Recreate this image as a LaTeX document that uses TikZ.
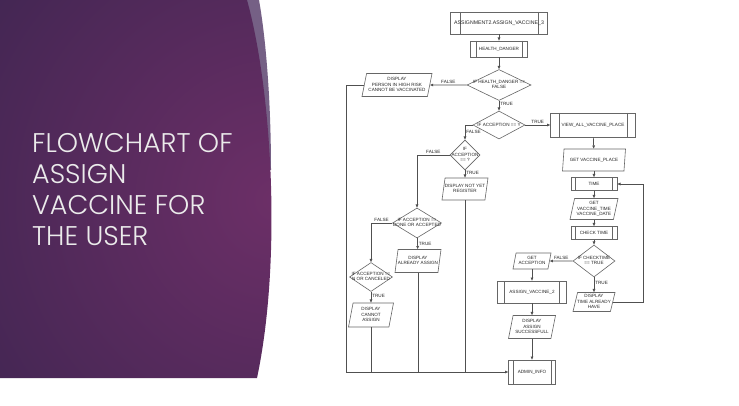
\documentclass[tikz,border=0pt]{standalone}
\usepackage{fontspec}
\usepackage{xcolor}
\usepackage{tikz}
\usetikzlibrary{shapes.geometric,arrows.meta,calc}
\setmainfont{Liberation Sans}
\newfontfamily\titlefont{Poppins Light}
\definecolor{bgL}{HTML}{2A2147}
\definecolor{bgR}{HTML}{6C2F67}
\definecolor{rim}{HTML}{756085}
\definecolor{ln}{HTML}{505050}
\definecolor{bd}{HTML}{666666}
\newcommand{\fc}[1]{\makebox[0pt]{\begin{tabular}{@{}c@{}}#1\end{tabular}}}
\tikzset{
  fcnode/.style={draw=bd, line width=.6pt, inner sep=0pt, text=black!85, font=\fontsize{4.6}{5.7}\selectfont},
  subproc/.style={fcnode, rectangle, path picture={\draw[bd, line width=.6pt]
    ($(path picture bounding box.north west)!.1!(path picture bounding box.north east)$) -- ($(path picture bounding box.south west)!.1!(path picture bounding box.south east)$)
    ($(path picture bounding box.north west)!.9!(path picture bounding box.north east)$) -- ($(path picture bounding box.south west)!.9!(path picture bounding box.south east)$);}},
  io/.style={fcnode, trapezium, trapezium left angle=75, trapezium right angle=105, trapezium stretches body},
  decision/.style={fcnode, diamond, aspect=1},
  flow/.style={draw=ln, line width=.7pt, -{Triangle[length=3.2pt,width=2.6pt]}},
  wire/.style={draw=ln, line width=.7pt},
  lbl/.style={inner sep=1pt, text=black!85, font=\fontsize{4.6}{5}\selectfont},
}

\begin{document}
\begin{tikzpicture}[x=1pt, y=-1pt]%
\useasboundingbox (0,0) rectangle (739,406);%
\fill[white] (0,0) rectangle (739,406);%
% slide panel
\fill[rim] (240,0) -- (259,0) .. controls (267,45) and (271,110) .. (271,170) -- (240,170) -- cycle;%
\begin{scope}%
\clip (0,0) -- (247,0) .. controls (272,90) and (282,260) .. (257,378) -- (0,378) -- cycle;%
\shade[inner color=bgR, outer color=bgL] (275,200) circle (560);%
\end{scope}%
\node[anchor=north west, align=left, inner sep=0pt, text=white!92!black, font=\titlefont\fontsize{27}{31}\selectfont] (title) at (32,133) {FLOWCHART OF\\ASSIGN\\VACCINE FOR\\THE USER};%
% main column
\node[subproc, minimum width=97pt, minimum height=22pt, font=\fontsize{5.2}{6}\selectfont] (top) at (499,23) {\fc{ASSIGNMENT2.ASSIGN\_VACCINE\_3}};%
\node[subproc, minimum width=57pt, minimum height=16pt] (danger) at (499,49) {\fc{HEALTH\_DANGER}};%
\node[decision, minimum width=64pt, minimum height=31pt] (ifdanger) at (499,85) {\fc{IF HEALTH\_DANGER ==\\FALSE}};%
\node[io, minimum width=70pt, minimum height=23pt] (risk) at (397,85) {\fc{DISPLAY\\PERSON IN HIGH RISK\\CANNOT BE VACCINATED}};%
\node[decision, minimum width=52pt, minimum height=28pt] (ifaccept) at (499,125) {\fc{IF ACCEPTION == Y}};%
% right column
\node[subproc, minimum width=85pt, minimum height=24pt] (viewall) at (593,125) {\fc{VIEW\_ALL\_VACCINE\_PLACE}};%
\node[io, minimum width=63pt, minimum height=22pt] (getplace) at (594,160) {\fc{GET VACCINE\_PLACE}};%
\node[subproc, minimum width=46pt, minimum height=13pt] (time) at (594,184) {\fc{TIME}};%
\node[io, minimum width=48pt, minimum height=21pt] (gettime) at (594,209) {\fc{GET\\VACCINE\_TIME\\VACCINE\_DATE}};%
\node[subproc, minimum width=46pt, minimum height=13pt] (checktime) at (594,233) {\fc{CHECK TIME}};%
\node[decision, minimum width=42pt, minimum height=32pt] (ifcheck) at (594,261) {\fc{IF CHECKTIME\\== TRUE}};%
\node[io, minimum width=42pt, minimum height=19pt] (havetime) at (594,302) {\fc{DISPLAY\\TIME ALREADY\\HAVE}};%
\node[io, minimum width=38pt, minimum height=16pt] (getaccept) at (532,261) {\fc{GET\\ACCEPTION}};%
\node[subproc, minimum width=69pt, minimum height=22pt] (assign) at (532,292) {\fc{ASSIGN\_VACCINE\_2}};%
\node[io, minimum width=47pt, minimum height=23pt] (success) at (532,327) {\fc{DISPLAY\\ASSIGN\\SUCCESSFULL}};%
\node[subproc, minimum width=47pt, minimum height=24pt] (admin) at (532,372) {\fc{ADMIN\_INFO}};%
% left branches
\node[decision, minimum width=30pt, minimum height=30pt] (ifquery) at (465,155) {\fc{IF\\ACCEPTION\\== ?}};%
\node[io, minimum width=46pt, minimum height=22pt] (notyet) at (465,189) {\fc{DISPLAY NOT YET\\REGISTER}};%
\node[decision, minimum width=49pt, minimum height=30pt] (ifdone) at (417,223) {\fc{IF ACCEPTION ==\\DONE OR ACCEPTED}};%
\node[io, minimum width=46pt, minimum height=23pt] (already) at (418,261) {\fc{DISPLAY\\ALREADY ASSIGN}};%
\node[decision, minimum width=43pt, minimum height=29pt] (ifcancel) at (371,277) {\fc{IF ACCEPTION ==\\N OR CANCELED}};%
\node[io, minimum width=45pt, minimum height=24pt] (cannot) at (371,315) {\fc{DISPLAY\\CANNOT\\ASSIGN}};%
\coordinate (bl) at (346,372);%
\coordinate (rt) at (643,184);%
% connectors
\draw[flow] (top) -- (danger);%
\draw[flow] (danger) -- (ifdanger);%
\draw[flow] (ifdanger) -- node[lbl, above] {FALSE} (risk);%
\draw[flow] (ifdanger) -- node[lbl, right, pos=.35] {TRUE} (ifaccept);%
\draw[flow] (risk.west) -| (bl) -- (admin.west);%
\draw[flow] (ifaccept) -- node[lbl, above] {TRUE} (viewall);%
\draw[flow] (ifaccept.west) -| node[lbl, right, pos=.75] {FALSE} (ifquery.north);%
\draw[flow] (ifquery) -- node[lbl, right, pos=.35] {TRUE} (notyet);%
\draw[flow] (ifquery.west) -| node[lbl, above, pos=.25] {FALSE} (ifdone.north);%
\draw[flow] (ifdone) -- node[lbl, right, pos=.5] {TRUE} (already);%
\draw[flow] (ifdone.west) -| node[lbl, above, pos=.25] {FALSE} (ifcancel.north);%
\draw[flow] (ifcancel) -- node[lbl, right, pos=.4] {TRUE} (cannot);%
\draw[wire] (cannot.south) -- (cannot.south |- bl);%
\draw[wire] (already.south) -- (already.south |- bl);%
\draw[wire] (notyet.south) -- (notyet.south |- bl);%
\draw[flow] (viewall) -- (getplace);%
\draw[flow] (getplace) -- (time);%
\draw[flow] (time) -- (gettime);%
\draw[flow] (gettime) -- (checktime);%
\draw[flow] (checktime) -- (ifcheck);%
\draw[flow] (ifcheck) -- node[lbl, above] {FALSE} (getaccept);%
\draw[flow] (ifcheck) -- node[lbl, right, pos=.4] {TRUE} (havetime);%
\draw[flow] (havetime.east) -| (rt) -- (time.east);%
\draw[flow] (getaccept) -- (assign);%
\draw[flow] (assign) -- (success);%
\draw[flow] (success) -- (admin);%
\end{tikzpicture}
\end{document}
